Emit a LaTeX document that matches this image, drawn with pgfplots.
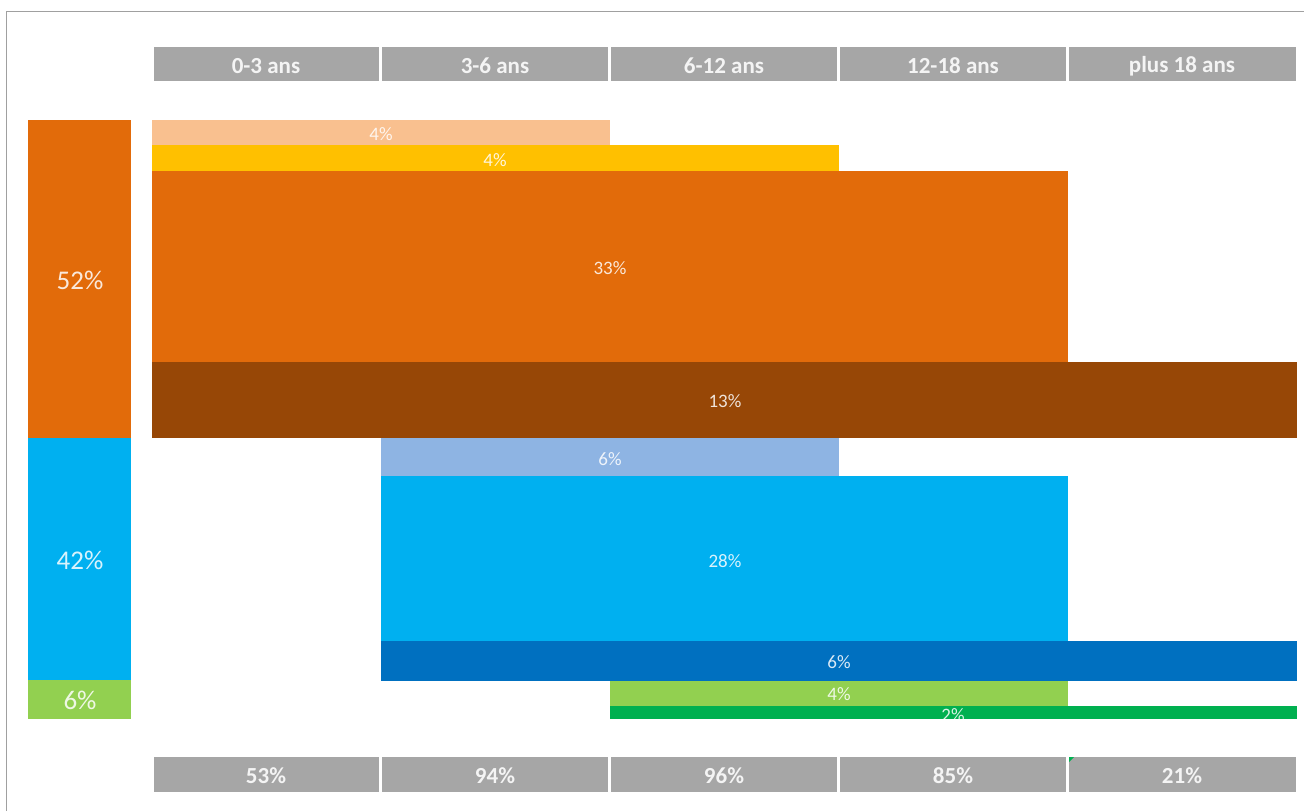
\documentclass[border=0pt]{standalone}
\usepackage{fontspec}
\setmainfont{Carlito}
\usepackage{pgfplots}
\pgfplotsset{compat=1.18}

\definecolor{peach}{HTML}{F9C08F}
\definecolor{gold}{HTML}{FFC000}
\definecolor{orng}{HTML}{E26B0A}
\definecolor{brwn}{HTML}{974706}
\definecolor{lblue}{HTML}{8EB4E3}
\definecolor{cyanb}{HTML}{00B0F0}
\definecolor{dblue}{HTML}{0070C0}
\definecolor{lgreen}{HTML}{92D050}
\definecolor{dgreen}{HTML}{00B050}
\definecolor{hdr}{HTML}{A6A6A6}
\definecolor{frame}{HTML}{A0A0A0}
\definecolor{hdrtext}{HTML}{F4F4F4}

% rectangle: colour, x1, x2, y1, y2 (pixels, y from top)
\newcommand{\rect}[5]{\addplot[draw=none, fill=#1] coordinates {(#2,#4) (#3,#4) (#3,#5) (#2,#5)} -- cycle;}

\begin{document}
\begin{tikzpicture}
\begin{axis}[
    scale only axis,
    width=1304bp, height=811bp,
    xmin=0, xmax=1304, ymin=0, ymax=811,
    y dir=reverse,
    axis line style={draw=none},
    ticks=none,
    every node near coord/.append style={anchor=center},
]
% background and frame
\rect{white}{0}{1304}{0}{811}
\addplot[draw=frame, line width=1.5bp] coordinates {(6.5,811) (6.5,11.5) (1304,11.5)};

% header and footer boxes
\rect{hdr}{154}{379}{47}{81}
\rect{hdr}{382}{608}{47}{81}
\rect{hdr}{611}{837}{47}{81}
\rect{hdr}{840}{1066}{47}{81}
\rect{hdr}{1069}{1296}{47}{81}
\rect{hdr}{154}{379}{757}{792}
\rect{hdr}{382}{608}{757}{792}
\rect{hdr}{611}{837}{757}{792}
\rect{hdr}{840}{1066}{757}{792}
\rect{hdr}{1069}{1296}{757}{792}
\addplot[draw=none, fill=dgreen] coordinates {(1069,757) (1074,757) (1069,762)} -- cycle;

% left summary column
\rect{orng}{28}{131}{120}{438}
\rect{cyanb}{28}{131}{438}{680}
\rect{lgreen}{28}{131}{680}{719}

% bars
\rect{peach}{152}{610}{120}{145}
\rect{gold}{152}{839}{145}{171}
\rect{orng}{152}{1068}{171}{362}
\rect{brwn}{152}{1297}{362}{438}
\rect{lblue}{381}{839}{438}{476}
\rect{cyanb}{381}{1068}{476}{641}
\rect{dblue}{381}{1297}{641}{681}
\rect{lgreen}{610}{1068}{681}{706}
\rect{dgreen}{610}{1297}{706}{719}

% header labels
\addplot[draw=none, mark=none, point meta=explicit symbolic,
    nodes near coords, nodes near coords style={font=\fontsize{23bp}{27bp}\selectfont\bfseries, text=hdrtext}]
  table[col sep=comma, meta=t] {
x,y,t
266,66,0-3 ans
495,66,3-6 ans
724,66,6-12 ans
953,66,12-18 ans
1182,66,plus 18 ans
};

% footer labels
\addplot[draw=none, mark=none, point meta=explicit symbolic,
    nodes near coords={\pgfplotspointmeta\%}, nodes near coords style={font=\fontsize{23bp}{27bp}\selectfont\bfseries, text=hdrtext}]
  table[meta=t] {
x y t
266 776 53
495 776 94
724 776 96
953 776 85
1182 776 21
};

% bar labels
\addplot[draw=none, mark=none, point meta=explicit symbolic,
    nodes near coords={\pgfplotspointmeta\%}, nodes near coords style={font=\fontsize{19bp}{22bp}\selectfont, text=white, text opacity=0.85}]
  table[meta=t] {
x y t
381 134 4
495 160 4
610 268 33
725 401 13
610 459 6
725 561 28
839 662 6
839 694 4
953 715 2
};

% left column labels
\addplot[draw=none, mark=none, point meta=explicit symbolic,
    nodes near coords={\pgfplotspointmeta\%}, nodes near coords style={font=\fontsize{27bp}{31bp}\selectfont, text=white, text opacity=0.85}]
  table[meta=t] {
x y t
80 280 52
80 560 42
80 700 6
};
\end{axis}
\end{tikzpicture}
\end{document}
